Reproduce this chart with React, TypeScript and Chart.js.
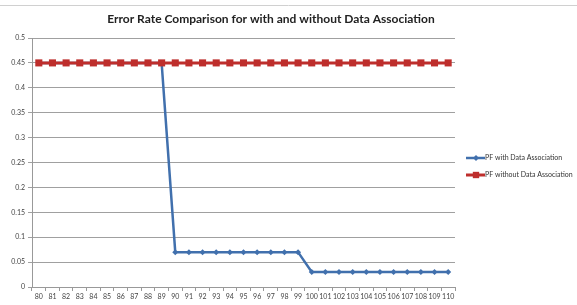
import React, { useEffect, useRef } from "react";
import { Chart, registerables } from "chart.js";

Chart.register(...registerables);

const titleText = "Error Rate Comparison for with and without Data Association";
const categories = [
  "80", "81", "82", "83", "84", "85", "86", "87", "88", "89",
  "90", "91", "92", "93", "94", "95", "96", "97", "98", "99",
  "100", "101", "102", "103", "104", "105", "106", "107", "108", "109", "110",
];
const withDA = [
  0.45, 0.45, 0.45, 0.45, 0.45, 0.45, 0.45, 0.45, 0.45, 0.45,
  0.07, 0.07, 0.07, 0.07, 0.07, 0.07, 0.07, 0.07, 0.07, 0.07,
  0.03, 0.03, 0.03, 0.03, 0.03, 0.03, 0.03, 0.03, 0.03, 0.03, 0.03,
];
const withoutDA = [
  0.45, 0.45, 0.45, 0.45, 0.45, 0.45, 0.45, 0.45, 0.45, 0.45,
  0.45, 0.45, 0.45, 0.45, 0.45, 0.45, 0.45, 0.45, 0.45, 0.45,
  0.45, 0.45, 0.45, 0.45, 0.45, 0.45, 0.45, 0.45, 0.45, 0.45, 0.45,
];
const seriesNames = ["PF with Data Association", "PF without Data Association"];

const BLUE = "#4170AD";
const RED = "#BE2E2C";
const FONT = "Lato, 'Open Sans', sans-serif";

export default function App() {
  const ref = useRef<HTMLCanvasElement>(null);
  useEffect(() => {
    document.body.style.margin = "0";
    const canvas = ref.current!;
    const extras = {
      id: "extras",
      afterDraw(chart: any) {
        const ctx = chart.ctx as CanvasRenderingContext2D;
        const ca = chart.chartArea;
        ctx.save();
        ctx.strokeStyle = "#d0d0d0";
        ctx.lineWidth = 1;
        ctx.beginPath();
        ctx.moveTo(0, 5.5);
        ctx.lineTo(577, 5.5);
        ctx.stroke();
        ctx.fillStyle = "#222";
        ctx.font = `bold 12px ${FONT}`;
        ctx.textAlign = "center";
        ctx.textBaseline = "middle";
        ctx.fillText(titleText, 271, 19);
        const items = [
          { name: seriesNames[0], color: BLUE, style: "rectRot", r: 3, lw: 2.5, y: 158 },
          { name: seriesNames[1], color: RED, style: "rect", r: 4.5, lw: 3, y: 175 },
        ];
        const lx = ca.right + 11;
        items.forEach((it) => {
          ctx.strokeStyle = it.color;
          ctx.lineWidth = it.lw;
          ctx.beginPath();
          ctx.moveTo(lx, it.y);
          ctx.lineTo(lx + 19, it.y);
          ctx.stroke();
          ctx.fillStyle = it.color;
          ctx.beginPath();
          if (it.style === "rect") {
            const s = it.r * Math.SQRT1_2;
            ctx.rect(lx + 10 - s, it.y - s, 2 * s, 2 * s);
          } else {
            ctx.moveTo(lx + 10 - it.r, it.y);
            ctx.lineTo(lx + 10, it.y - it.r);
            ctx.lineTo(lx + 10 + it.r, it.y);
            ctx.lineTo(lx + 10, it.y + it.r);
            ctx.closePath();
          }
          ctx.fill();
          ctx.fillStyle = "#333";
          ctx.font = `7px ${FONT}`;
          ctx.textAlign = "left";
          ctx.textBaseline = "middle";
          ctx.fillText(it.name, lx + 19, it.y);
        });
        ctx.restore();
      },
    };
    const chart = new Chart(canvas, {
      type: "line",
      data: {
        labels: categories,
        datasets: [
          {
            label: seriesNames[0],
            data: withDA,
            borderColor: BLUE,
            backgroundColor: BLUE,
            borderWidth: 2.5,
            pointStyle: "rectRot",
            pointRadius: 3,
            pointBorderWidth: 0,
            tension: 0,
            order: 1,
          },
          {
            label: seriesNames[1],
            data: withoutDA,
            borderColor: RED,
            backgroundColor: RED,
            borderWidth: 3,
            pointStyle: "rect",
            pointRadius: 5,
            pointBorderWidth: 0,
            tension: 0,
            order: 0,
          },
        ],
      },
      options: {
        responsive: false,
        animation: false,
        layout: { padding: { top: 38, right: 122, bottom: 0, left: 0 } },
        plugins: {
          legend: { display: false },
          title: { display: false },
          tooltip: { enabled: false },
        },
        scales: {
          x: {
            offset: true,
            grid: {
              display: true,
              offset: true,
              drawOnChartArea: false,
              drawTicks: true,
              tickLength: 4,
              color: "#999",
            },
            border: { color: "#999" },
            ticks: {
              font: { family: FONT, size: 7 },
              color: "#444",
              maxRotation: 0,
              autoSkip: false,
              padding: 2,
            },
            afterFit: (s: any) => {
              s.height = 18;
            },
          },
          y: {
            min: 0,
            max: 0.5,
            ticks: {
              stepSize: 0.05,
              font: { family: FONT, size: 7 },
              color: "#444",
              padding: 3,
              callback: (v: any) => String(Number(Number(v).toFixed(2))),
            },
            grid: { color: "#a0a0a0", tickLength: 4 },
            border: { color: "#999" },
            afterFit: (s: any) => {
              s.width = 32;
            },
          },
        },
      },
      plugins: [extras],
    });
    return () => chart.destroy();
  }, []);
  return (
    <div style={{ width: 577, height: 305, background: "#fff" }}>
      <canvas ref={ref} width={577} height={305} />
    </div>
  );
}
